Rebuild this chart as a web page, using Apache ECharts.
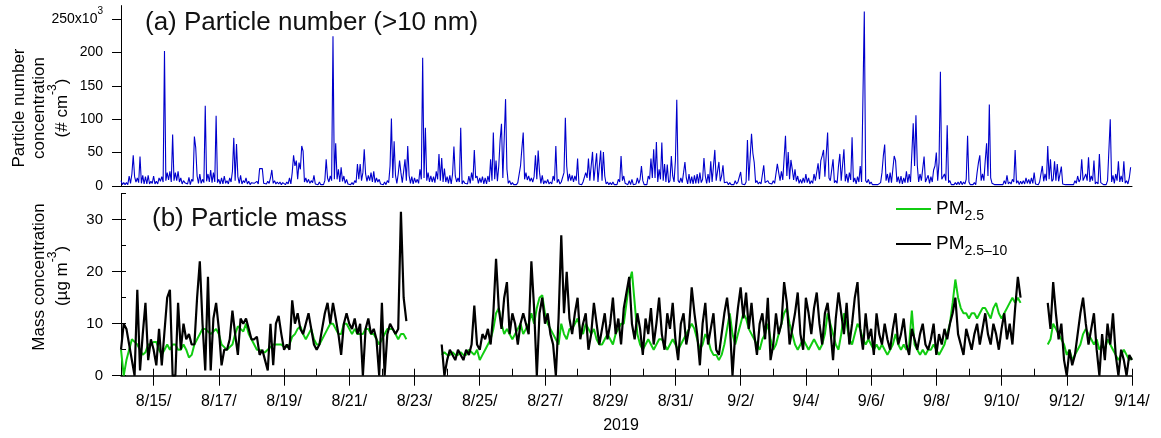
<!DOCTYPE html>
<html><head><meta charset="utf-8">
<script src="https://cdn.jsdelivr.net/npm/echarts@6/dist/echarts.min.js"></script>
<style>html,body{margin:0;padding:0;background:#fff}#c{width:1161px;height:438px}</style>
</head><body><div id="c"></div>
<script>
// (a) Particle number concentration (x10^3 cm^-3), hourly from 2019-08-14 00:00
const particleNumber = [
8,2,5,2,5,2,15,4,18,46,14,6,12,5,44,4,16,3,14,3,16,3,7,4,
15,3,7,3,12,7,14,6,202,8,20,9,22,6,77,8,20,8,22,6,12,3,8,5,
6,3,13,2,10,7,74,57,15,4,18,4,10,5,120,7,18,6,24,5,20,6,105,5,
10,3,12,3,15,4,8,3,12,6,22,72,8,63,14,4,16,3,8,5,12,3,7,2,
5,3,4,2,7,3,26,26,26,4,6,3,7,4,12,24,4,8,3,6,3,6,2,5,
6,2,6,3,12,3,20,46,30,38,10,35,25,60,52,6,12,5,10,4,8,5,16,3,
5,2,6,2,4,2,8,40,12,6,15,8,224,10,64,10,25,6,28,7,15,4,10,3,
5,2,5,2,8,5,33,10,33,8,20,55,18,7,16,8,20,6,22,5,12,6,10,3,
5,2,6,2,8,5,30,101,12,67,16,4,18,38,20,5,22,40,8,60,16,4,14,3,
12,5,10,4,25,10,192,12,87,8,20,6,15,6,14,5,22,10,48,8,42,6,26,6,
14,4,16,3,18,59,15,6,12,6,87,3,8,4,6,3,15,4,20,8,54,12,15,4,
12,5,14,3,12,3,15,6,40,8,80,10,38,7,30,69,93,12,10,130,25,4,8,2,
5,2,3,2,5,5,30,56,80,10,20,9,15,7,12,6,14,46,10,53,20,4,16,3,
8,4,10,3,6,3,15,8,60,5,10,3,6,4,20,102,30,7,18,8,16,6,15,8,
41,3,5,2,6,4,20,12,41,8,30,51,8,10,49,6,8,53,8,51,15,3,6,2,
5,2,6,2,4,2,10,6,45,8,15,4,5,2,8,2,10,2,4,3,12,4,10,30,
8,2,4,2,15,10,41,12,55,12,66,6,25,10,65,8,33,6,32,5,8,45,15,6,
38,129,8,5,12,5,20,36,12,3,18,4,14,3,16,4,18,4,20,5,10,42,15,4,
18,5,37,6,8,54,8,6,36,7,15,31,5,3,6,2,5,2,4,2,8,3,6,4,
21,3,5,2,6,69,8,10,78,49,35,5,8,3,6,3,5,31,5,3,8,4,6,3,
8,4,6,33,20,8,22,9,10,75,15,51,10,39,25,9,25,7,15,4,10,4,12,5,
18,5,12,3,8,4,18,8,7,34,10,38,45,54,14,12,80,12,8,8,40,5,8,4,
30,48,8,8,55,7,18,5,20,9,73,6,12,3,14,6,30,6,8,261,8,5,10,3,
6,2,3,2,3,2,4,5,20,45,62,8,18,5,20,5,25,45,38,6,14,4,15,3,
12,5,22,5,18,6,49,94,30,106,31,6,18,8,8,44,6,5,16,4,14,6,24,30,
50,8,35,171,10,8,18,8,91,5,8,2,4,2,5,2,6,2,7,2,6,3,10,75,
6,2,3,2,5,2,20,35,46,8,18,8,38,64,15,122,12,4,6,2,3,2,4,2,
4,2,8,3,16,3,6,3,10,6,54,4,8,2,7,3,8,3,12,4,10,3,12,4,
20,3,5,2,6,5,30,7,18,8,60,10,40,7,10,37,8,33,7,6,29,3,5,2,
3,2,4,2,3,2,8,4,15,6,10,40,8,7,18,8,43,6,15,8,38,3,6,3,
48,5,6,2,4,2,8,10,100,6,16,4,18,8,37,6,15,6,37,4,8,3,12,28
];
const _ = null;
// (b) PM2.5 (µg m^-3), every 2 h from 2019-08-14 00:00
const pm25 = [
5,0,3,5,7,6.5,6,5,4,4.5,6,6,6.5,6.5,5,4,5,6,5,6,6,5,5,6,5,3.5,4,6,7,8,9,9,8.5,8,8.5,9,8,6,5.5,5,5.5,6,8,9.5,9,8.5,10,8,7,6,5,5,4.5,4.5,5,5.5,6,6,6,6,5.5,5.5,6,7.5,8,
9,9.5,8,7,8,9,7,6,6,7,8,9,10,10,9,8,8,10,10,9,8,9,8,8,8,9,9,8,8,7,6,7,8,9,9,9,8,7,8,8,7,
_,_,_,_,_,_,_,_,_,_,_,_,
4,4.5,4,4,4.5,4,4,4.5,4,4,5,4.5,4,5,3,4,5,6,7,9,12,13,10,8,9,8,7,8,9,10,8,9,10,12,10,13,15,15.5,12,10,9,8,7,6,10,8,7,9,
9,10,11,9,8,10,9,8,9,7,6,
6,7,8,7,6,8,9,10,10,14,18,
20,14,8,6,5,6,7,6,5,6,7,
7,6,5,6,7,6,5,6,7,8,9,
10,9,7,5,6,8,7,5,4,4,3,
4,6,9,12,8,6,8,10,12,11,9,
8,7,6,5,7,8,10,7,5,6,8,
10,12,13,10,8,6,5,6,7,6,5,
6,7,6,5,6,8,12,10,8,6,5,
8,12,10,7,6,8,10,9,7,6,7,
6,5,6,5,6,5,4,5,6,8,6,
5,6,5,6,12.5,6,5,4,5,4,5,
5,6,5,4,5,6,8,10,14,18.5,15,
13,12,12,11,12,12,11,12,13,13,12,
11,13,14,12,11,12,13,14,15,14,15,14,
_,_,_,_,_,_,_,_,_,
6,7,10,9,8,7,6,4,5,3,4,5,6,8,9,8,7,6,7,5,6,5,7,6,5,4,3,4,5,4,3,3.5
];
// (b) PM2.5–10 (µg m^-3), every 2 h from 2019-08-14 00:00
const pm25to10 = [
5,10,9,6,3,0,16.5,1,8,14,3,7,5,2,9,2,8.5,15,16.5,0,0,14,5,10,7,8,6,6,15,22,10,1,19,1,11,14,9,2,5,5,7,12.5,8,4,11,10,11,9,7,7,7.5,4,5,3,1,10,2,10,11.5,8,5,6,5,14.5,10,
12,9,8,10,12,9,6,5,6,9,12,14,10,14,11,8,4,10,12,10,9,11,8,10,0,9,11,8,9,7,0,14,0,8,10,9,8,9,31.5,15,10.5,
_,_,_,_,_,_,_,_,_,_,_,_,
6,0,3,5,4,3,5,4,3,5,4,6,13.5,6,5,8,7,9,6,12,22.5,13,9,15,18,8,12,10,6,10,12,10,8,22,13,0,12,15,10,12,8,6,0,11,27,12,20,11,
8,12,15,7,10,12,5,8,14,10,6,
9,12,7,10,15,8,11,6,13,16,19,
10,7,12,9,4,11,8,13,6,10,15,
8,5,12,9,14,7,3,10,12,6,9,
17,12,8,2,10,14,6,9,12,5,4,
8,12,15,10,0,8,13,17,11,16,9,
14,8,4,10,12,7,15,3,6,12,8,
10,18,14,6,9,12,16,8,5,15,12,
8,13,16,10,6,12,14,9,3,11,16,
12,8,14,6,10,15,18,9,5,12,7,
9,4,12,8,6,10,7,5,9,12,6,
8,11,6,4,9,7,5,8,10,6,5,
7,10,4,8,6,9,7,10,12,15,8,
6,4,9,7,5,8,10,6,9,12,8,
6,10,8,5,9,12,7,10,6,13,19,15,
_,_,_,_,_,_,_,_,_,
14,9,18,12,7,10,3,0,5,2,4,8,12,15,10,6,9,12,5,0,8,3,10,6,12,4,0,5,3,0,4,3
];
const dayTickLabels = ['8/15/','8/17/','8/19/','8/21/','8/23/','8/25/','8/27/','8/29/','8/31/','9/2/','9/4/','9/6/','9/8/','9/10/','9/12/','9/14/'];
const yearLabel = '2019';
const topTicks = [0,50,100,150,200,250];
const bottomTicks = [0,10,20,30];
const seriesNames = ['PM2.5','PM2.5–10'];

const FF = 'Liberation Sans';
const TOTAL_H = 744;
const topData = particleNumber.map((v, i) => [i, v]);
const pm25Data = pm25.map((v, i) => [i * 2, v]);
const coarseData = pm25to10.map((v, i) => [i * 2, v]);
const majorHours = dayTickLabels.map((_, k) => 24 * (1 + 2 * k));

const chart = echarts.init(document.getElementById('c'), null, {renderer: 'canvas'});
const axBase = {type: 'value', min: 0, max: TOTAL_H, splitLine: {show: false}};
const blk = {color: '#000', width: 1};
const option = {
  animation: false,
  backgroundColor: '#fff',
  grid: [
    {left: 121, right: 29, top: 5.6, height: 180.4, outerBoundsMode: 'none', containLabel: false},
    {left: 121, right: 29, top: 193.7, height: 182, outerBoundsMode: 'none', containLabel: false}
  ],
  xAxis: [
    Object.assign({}, axBase, {gridIndex: 0, axisLine: {show: true, onZero: false, lineStyle: blk}, axisTick: {show: false}, axisLabel: {show: false}}),
    Object.assign({}, axBase, {gridIndex: 1, axisLine: {show: true, onZero: false, lineStyle: {color: '#000', width: 1.5}},
      axisTick: {show: true, customValues: majorHours, length: 10, lineStyle: blk},
      axisLabel: {show: true, customValues: majorHours, margin: 18, color: '#000', fontFamily: FF, fontSize: 16,
        formatter: v => dayTickLabels[Math.round((v / 24 - 1) / 2)]}}),
    Object.assign({}, axBase, {gridIndex: 1, interval: 24, axisLine: {show: false}, axisTick: {show: true, length: 7, lineStyle: blk}, axisLabel: {show: false}})
  ],
  yAxis: [
    {gridIndex: 0, type: 'value', min: 0, max: 270, splitLine: {show: false},
      axisLine: {show: true, onZero: false, lineStyle: blk},
      axisTick: {show: true, customValues: topTicks, length: 9, lineStyle: blk},
      axisLabel: {show: true, customValues: topTicks, margin: 18, color: '#000', fontFamily: FF, fontSize: 15,
        formatter: v => v === 250 ? '{b|250x10}{s|3}' : '{b|' + v + '}',
        rich: {b: {fontSize: 14, fontFamily: FF, color: '#000', lineHeight: 26}, s: {fontSize: 10, fontFamily: FF, color: '#000', verticalAlign: 'top', lineHeight: 10}}}},
    {gridIndex: 1, type: 'value', min: 0, max: 35, splitLine: {show: false},
      axisLine: {show: true, onZero: false, lineStyle: blk},
      axisTick: {show: true, customValues: bottomTicks, length: 9, lineStyle: blk},
      axisLabel: {show: true, customValues: bottomTicks, margin: 18, color: '#000', fontFamily: FF, fontSize: 15}},
    {gridIndex: 1, type: 'value', min: 0, max: 35, interval: 5, splitLine: {show: false},
      axisLine: {show: false}, axisTick: {show: true, length: 5, lineStyle: blk}, axisLabel: {show: false}}
  ],
  series: [
    {type: 'line', name: 'N', xAxisIndex: 0, yAxisIndex: 0, data: topData, symbol: 'none', showSymbol: false,
      lineStyle: {color: '#0000cc', width: 1.1}, z: 3},
    {type: 'line', name: seriesNames[0], xAxisIndex: 1, yAxisIndex: 1, data: pm25Data, symbol: 'none', showSymbol: false, connectNulls: false,
      lineStyle: {color: '#11cc11', width: 2}, z: 3},
    {type: 'line', name: seriesNames[1], xAxisIndex: 1, yAxisIndex: 1, data: coarseData, symbol: 'none', showSymbol: false, connectNulls: false,
      lineStyle: {color: '#000', width: 2.2}, z: 4}
  ],
  graphic: {elements: [
    {type: 'text', x: 145, y: 23, style: {text: '(a) Particle number (>10 nm)', fontFamily: FF, fontSize: 26, fill: '#111', align: 'left', verticalAlign: 'middle'}},
    {type: 'text', x: 152, y: 219, style: {text: '(b) Particle mass', fontFamily: FF, fontSize: 26, fill: '#111', align: 'left', verticalAlign: 'middle'}},
    {type: 'text', x: 19, y: 108, rotation: Math.PI / 2, style: {text: 'Particle number', fontFamily: FF, fontSize: 17, fill: '#000', align: 'center', verticalAlign: 'middle'}},
    {type: 'text', x: 39, y: 108, rotation: Math.PI / 2, style: {text: 'concentration', fontFamily: FF, fontSize: 17, fill: '#000', align: 'center', verticalAlign: 'middle'}},
    {type: 'text', x: 62, y: 108, rotation: Math.PI / 2, style: {text: '{t|(# cm}{s|-3}{t|)}', align: 'center', verticalAlign: 'middle',
      rich: {t: {fontFamily: FF, fontSize: 17, fill: '#000', lineHeight: 30}, s: {fontFamily: FF, fontSize: 12, fill: '#000', verticalAlign: 'top', lineHeight: 12}}}},
    {type: 'text', x: 39, y: 277, rotation: Math.PI / 2, style: {text: 'Mass concentration', fontFamily: FF, fontSize: 17, fill: '#000', align: 'center', verticalAlign: 'middle'}},
    {type: 'text', x: 62, y: 276, rotation: Math.PI / 2, style: {text: '{t|(µg m}{s|-3}{t|)}', align: 'center', verticalAlign: 'middle',
      rich: {t: {fontFamily: FF, fontSize: 17, fill: '#000', lineHeight: 30}, s: {fontFamily: FF, fontSize: 12, fill: '#000', verticalAlign: 'top', lineHeight: 12}}}},
    {type: 'line', shape: {x1: 896, y1: 209, x2: 931, y2: 209}, style: {stroke: '#11cc11', lineWidth: 2}},
    {type: 'text', x: 936, y: 209, style: {text: '{b|PM}{s|2.5}', align: 'left', verticalAlign: 'middle',
      rich: {b: {fontFamily: FF, fontSize: 19, fill: '#000', lineHeight: 28}, s: {fontFamily: FF, fontSize: 14, fill: '#000', verticalAlign: 'bottom', lineHeight: 14}}}},
    {type: 'line', shape: {x1: 896, y1: 244, x2: 931, y2: 244}, style: {stroke: '#000', lineWidth: 2}},
    {type: 'text', x: 936, y: 244, style: {text: '{b|PM}{s|2.5–10}', align: 'left', verticalAlign: 'middle',
      rich: {b: {fontFamily: FF, fontSize: 19, fill: '#000', lineHeight: 28}, s: {fontFamily: FF, fontSize: 14, fill: '#000', verticalAlign: 'bottom', lineHeight: 14}}}},
    {type: 'text', x: 621, y: 426, style: {text: yearLabel, fontFamily: FF, fontSize: 16, fill: '#000', align: 'center', verticalAlign: 'middle'}}
  ]}
};
chart.setOption(option);
</script>
</body></html>
